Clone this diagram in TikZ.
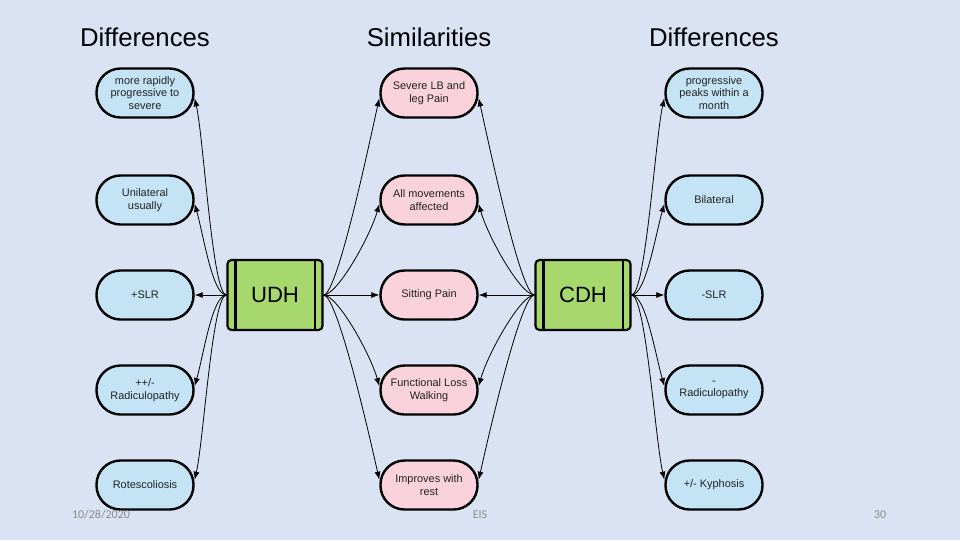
\documentclass[tikz,border=0pt]{standalone}
\usepackage{fontspec}
\setmainfont{Liberation Sans}
\newfontfamily\footfont{Carlito}
\usetikzlibrary{arrows.meta}
\definecolor{bgcol}{HTML}{DAE3F3}
\definecolor{bluebox}{HTML}{C4E4F6}
\definecolor{pinkbox}{HTML}{FAD2DC}
\definecolor{greenbox}{HTML}{A6D86E}
\definecolor{footgray}{HTML}{8C8C8C}
\definecolor{boxtext}{HTML}{222222}
\tikzset{
  pill/.style={draw=black, line width=1.8pt, rounded corners=18pt, minimum width=72.75pt, minimum height=36.75pt, align=center, font=\fontsize{8.2}{9.6}\selectfont, text=boxtext, inner sep=0pt},
  bluepill/.style={pill, fill=bluebox},
  pinkpill/.style={pill, fill=pinkbox},
  centerbox/.style={draw=black, line width=1.6pt, fill=greenbox, rounded corners=3pt, minimum width=71.25pt, minimum height=52.5pt, font=\fontsize{16.6}{18}\selectfont, inner sep=0pt},
  heading/.style={font=\fontsize{19.3}{22}\selectfont},
  foot/.style={font=\footfont\fontsize{9}{10}\selectfont, text=footgray},
  conn/.style={line width=0.6pt, -{Latex[length=6pt,width=4.5pt]}},
}
\begin{document}
\begin{tikzpicture}[x=0.75pt,y=-0.75pt]
\useasboundingbox (0,0) rectangle (960,540);
\fill[bgcol] (0,0) rectangle (960,540);

\node[heading] (h1) at (145,37) {Differences};
\node[heading] (h2) at (429,37) {Similarities};
\node[heading] (h3) at (714,37) {Differences};

% left column
\node[bluepill] (l1) at (145,93) {more rapidly\\progressive to\\severe};
\node[bluepill] (l2) at (145,200) {Unilateral\\usually};
\node[bluepill] (l3) at (145,295) {+SLR};
\node[bluepill] (l4) at (145,390) {++/-\\Radiculopathy};
\node[bluepill] (l5) at (145,485) {Rotescoliosis};

% middle column
\node[pinkpill] (m1) at (429,93) {Severe LB and\\leg Pain};
\node[pinkpill] (m2) at (429,200) {All movements\\affected};
\node[pinkpill] (m3) at (429,295) {Sitting Pain};
\node[pinkpill] (m4) at (429,390) {Functional Loss\\Walking};
\node[pinkpill] (m5) at (429,485) {Improves with\\rest};

% right column
\node[bluepill] (r1) at (714,93) {progressive\\peaks within a\\month};
\node[bluepill] (r2) at (714,200) {Bilateral};
\node[bluepill] (r3) at (714,295) {-SLR};
\node[bluepill] (r4) at (714,390) {-\\Radiculopathy};
\node[bluepill] (r5) at (714,485) {+/- Kyphosis};

% centre boxes
\node[centerbox] (udh) at (275,295) {UDH};
\draw[line width=1.6pt] ([xshift=6.75pt]udh.north west) -- ([xshift=6.75pt]udh.south west);
\draw[line width=1.6pt] ([xshift=-6.75pt]udh.north east) -- ([xshift=-6.75pt]udh.south east);
\node[centerbox] (cdh) at (583,295) {CDH};
\draw[line width=1.6pt] ([xshift=6.75pt]cdh.north west) -- ([xshift=6.75pt]cdh.south west);
\draw[line width=1.6pt] ([xshift=-6.75pt]cdh.north east) -- ([xshift=-6.75pt]cdh.south east);

% UDH -> left
\draw[conn] (udh.west) .. controls +(-14,0) and +(9,40) .. ([yshift=-4pt]l1.east);
\draw[conn] (udh.west) .. controls +(-14,0) and +(9,32) .. ([yshift=-3pt]l2.east);
\draw[conn] (udh.west) -- (l3.east);
\draw[conn] (udh.west) .. controls +(-14,0) and +(9,-32) .. ([yshift=3pt]l4.east);
\draw[conn] (udh.west) .. controls +(-14,0) and +(9,-40) .. ([yshift=4pt]l5.east);

% UDH -> middle
\draw[conn] (udh.east) .. controls +(14,0) and +(-9,40) .. ([yshift=-4pt]m1.west);
\draw[conn] (udh.east) .. controls +(14,0) and +(-9,32) .. ([yshift=-3pt]m2.west);
\draw[conn] (udh.east) -- (m3.west);
\draw[conn] (udh.east) .. controls +(14,0) and +(-9,-32) .. ([yshift=3pt]m4.west);
\draw[conn] (udh.east) .. controls +(14,0) and +(-9,-40) .. ([yshift=4pt]m5.west);

% CDH -> middle
\draw[conn] (cdh.west) .. controls +(-14,0) and +(9,40) .. ([yshift=-4pt]m1.east);
\draw[conn] (cdh.west) .. controls +(-14,0) and +(9,32) .. ([yshift=-3pt]m2.east);
\draw[conn] (cdh.west) -- (m3.east);
\draw[conn] (cdh.west) .. controls +(-14,0) and +(9,-32) .. ([yshift=3pt]m4.east);
\draw[conn] (cdh.west) .. controls +(-14,0) and +(9,-40) .. ([yshift=4pt]m5.east);

% CDH -> right
\draw[conn] (cdh.east) .. controls +(14,0) and +(-9,40) .. ([yshift=-4pt]r1.west);
\draw[conn] (cdh.east) .. controls +(14,0) and +(-9,32) .. ([yshift=-3pt]r2.west);
\draw[conn] (cdh.east) -- (r3.west);
\draw[conn] (cdh.east) .. controls +(14,0) and +(-9,-32) .. ([yshift=3pt]r4.west);
\draw[conn] (cdh.east) .. controls +(14,0) and +(-9,-40) .. ([yshift=4pt]r5.west);

% footer
\node[foot] (f1) at (101,515) {10/28/2020};
\node[foot] (f2) at (480,515) {EIS};
\node[foot] (f3) at (880,515) {30};
\end{tikzpicture}
\end{document}
